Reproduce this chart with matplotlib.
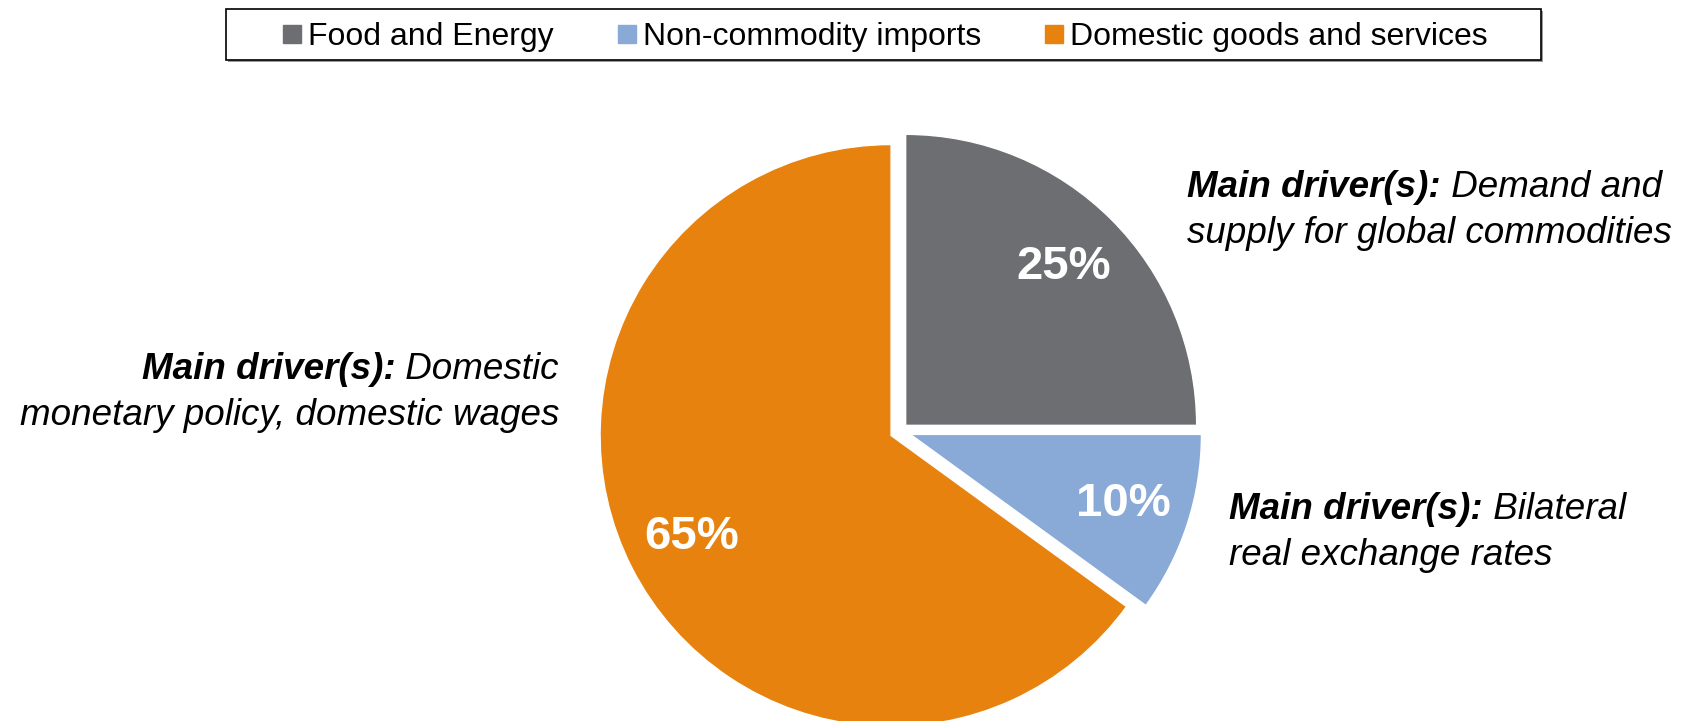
import matplotlib.pyplot as plt
from matplotlib.lines import Line2D
from matplotlib.patches import Rectangle

plt.rcParams['font.family'] = ['Liberation Sans', 'DejaVu Sans']

# Data
categories = ['Food and Energy', 'Non-commodity imports', 'Domestic goods and services']
shares = [25, 10, 65]
colors = ['#6d6e71', '#89aad6', '#e8820e']

# driver notes: text after the bold lead-in, and the second line
driver_first = ['Demand and', 'Bilateral', 'Domestic']
driver_second = ['supply for global commodities', 'real exchange rates',
                 'monetary policy, domestic wages']

# Figure set up in pixel units (1682 x 721)
W, H = 1682, 721
fig = plt.figure(figsize=(W / 100, H / 100), dpi=100)
ax = fig.add_axes([0, 0, 1, 1])

wedges, texts, autotexts = ax.pie(
    shares, colors=colors, startangle=90, counterclock=False,
    radius=291, center=(900, H - 431), explode=[8, 11, 10],
    autopct=lambda p: f'{p:.0f}%', pctdistance=0.77,
    wedgeprops=dict(edgecolor='white', linewidth=1),
    textprops=dict(color='white', fontsize=34, fontweight='bold'))
ax.set_xlim(0, W)
ax.set_ylim(0, H)
ax.set_aspect('equal')
ax.axis('off')

renderer = fig.canvas.get_renderer()
fs = 26.5


def driver_note(x, y, first, second, align='left'):
    bold = dict(fontsize=fs, fontweight='bold', style='italic', va='baseline')
    ital = dict(fontsize=fs, style='italic', va='baseline')
    if align == 'left':
        t = ax.text(x, y, 'Main driver(s):', ha='left', **bold)
        x1 = t.get_window_extent(renderer).x1
        ax.text(x1, y, ' ' + first, ha='left', **ital)
    else:
        t = ax.text(x, y, ' ' + first, ha='right', **ital)
        x0 = t.get_window_extent(renderer).x0
        ax.text(x0, y, 'Main driver(s):', ha='right', **bold)
    ax.text(x, y - 46, second, ha=align, **ital)


driver_note(1187, H - 197, driver_first[0], driver_second[0])
driver_note(1229, H - 519, driver_first[1], driver_second[1])
driver_note(559, H - 379, driver_first[2], driver_second[2], align='right')

# legend box
ax.add_patch(Rectangle((228, H - 62), 1315, 51, facecolor='#9a9a9a', lw=0, zorder=3))
ax.add_patch(Rectangle((226, H - 60), 1315, 51, facecolor='white',
                       edgecolor='black', lw=1.2, zorder=4))
handles = [Line2D([], [], marker='s', linestyle='', markersize=13, color=c) for c in colors]
fig.legend(handles, categories, loc='center', bbox_to_anchor=(885 / W, 1 - 37.5 / H),
           ncol=3, frameon=False, fontsize=23, handlelength=0.6,
           handletextpad=0.2, columnspacing=2.0)

fig.savefig('out.png', dpi=100)
